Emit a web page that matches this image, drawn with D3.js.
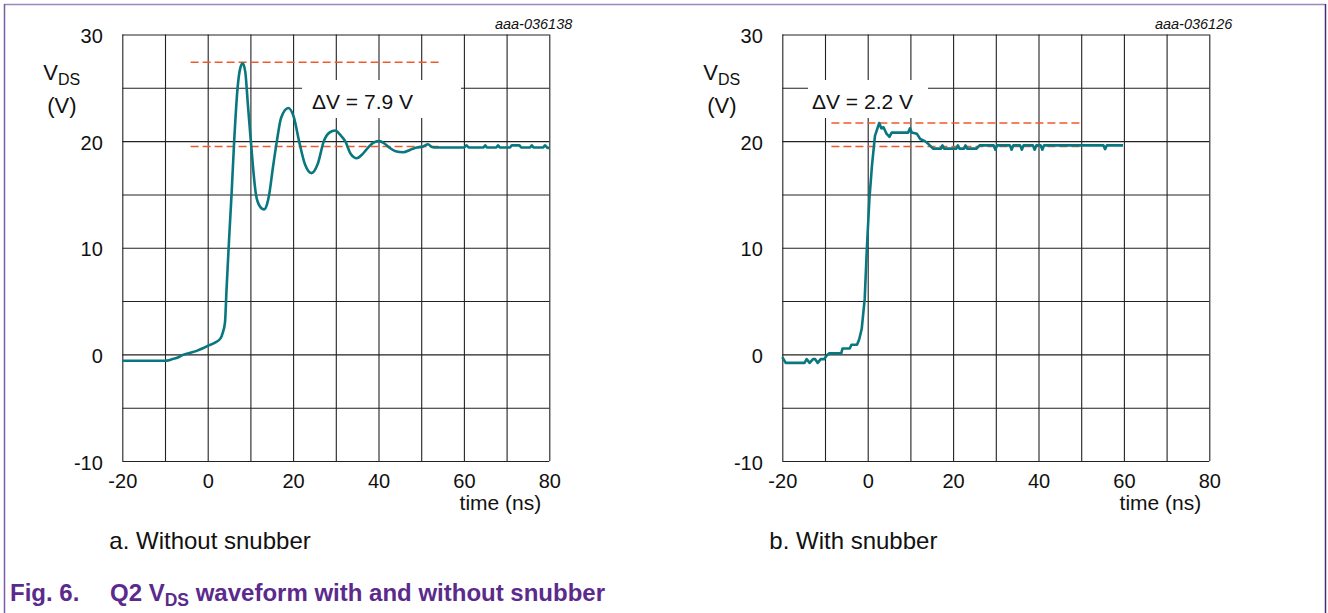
<!DOCTYPE html>
<html lang="en">
<head>
<meta charset="UTF-8">
<title>Q2 VDS waveform with and without snubber</title>
<script src="https://d3js.org/d3.v7.min.js"></script>
<style>
  body { margin: 0; background: #fff; }
  svg { font-family: "Liberation Sans", Arial, sans-serif; }
</style>
</head>
<body>
<svg width="1328" height="613"></svg>
<script>
// time axis (ns) and VDS (V) ticks
const xTicks = [-20, 0, 20, 40, 60, 80];
const yTicks = [-10, 0, 10, 20, 30];

// a. without snubber
const timeA = [-20, -10, -9, -8.4, -7, -5.8, -4, -2.6, -1, 0, 1.7, 3, 3.5, 4.05, 4.4, 5, 5.6, 6.2, 7, 7.6,
  8.2, 8.8, 9.4, 10.1, 11.3, 12.2, 13.2, 13.9, 14.4, 15.3, 16.2, 17.2, 18.9, 20.2, 21.4, 22.8, 24.3, 25.8,
  27.2, 28.5, 29.9, 31, 32.2, 33.5, 34.9, 36.3, 37.8, 39, 40.2, 41.3, 42.5, 44, 45.8, 47.5, 49, 50.5, 51.6,
  52.5, 53.6, 60, 60.6, 61.2, 64.6, 65, 65.4, 67.6, 68, 68.4, 70.8, 71.2, 73, 73.4, 75.5, 75.9, 76.3, 78.5,
  79, 79.5, 80];
const vdsA = [-0.6, -0.6, -0.55, -0.45, -0.3, -0.05, 0.15, 0.33, 0.6, 0.8, 1.1, 1.5, 2.0, 3.0, 6.0, 10.75,
  15.1, 20.0, 25.0, 26.8, 27.3, 26.5, 23.5, 20.0, 15.0, 13.9, 13.6, 14.1, 15.0, 17.6, 20.0, 22.2, 23.1, 22.2,
  20.0, 17.8, 17.0, 17.9, 20.0, 20.8, 21.0, 20.6, 20.0, 18.8, 18.4, 18.8, 19.5, 19.9, 20.0, 19.8, 19.4, 19.05,
  18.95, 19.2, 19.4, 19.5, 19.7, 19.45, 19.4, 19.4, 19.6, 19.4, 19.4, 19.6, 19.4, 19.4, 19.6, 19.4, 19.4,
  19.6, 19.6, 19.4, 19.4, 19.6, 19.4, 19.4, 19.6, 19.4, 19.35];
const levelsA = [27.4, 19.5];
const spanA = [-4, 54.5];

// b. with snubber
const timeB = [-20, -19.2, -14.8, -14.3, -13.6, -12.8, -12.3, -11.7, -11, -10.2, -9.6, -9, -6.2, -5.9, -4.2,
  -3.8, -2.5, -2, -1.4, -0.7, -0.2, 0.4, 1, 1.7, 2.7, 3.2, 3.7, 4.4, 5.1, 5.6, 9.5, 9.9, 10.3, 11.5, 12.3,
  13.4, 14.3, 15.3, 17.2, 17.5, 17.9, 20.8, 21.1, 21.5, 22.6, 22.9, 23.3, 25.5, 26.2, 29.5, 29.9, 30.3, 33.3,
  33.7, 34.1, 35.7, 36.1, 36.5, 38.7, 39.1, 39.5, 40.5, 40.9, 41.3, 55.2, 55.6, 56, 59.8];
const vdsB = [-0.25, -0.8, -0.8, -0.45, -0.8, -0.45, -0.45, -0.8, -0.45, -0.45, -0.1, 0.1, 0.1, 0.55, 0.55,
  0.9, 0.9, 1.4, 2.4, 5.2, 9.9, 14.6, 17.7, 20.5, 21.7, 21.2, 21.3, 20.7, 20.4, 20.8, 20.8, 21.2, 20.8, 20.7,
  20.2, 20.0, 19.7, 19.3, 19.3, 19.6, 19.3, 19.3, 19.6, 19.3, 19.3, 19.6, 19.3, 19.3, 19.6, 19.6, 19.2, 19.6,
  19.6, 19.2, 19.6, 19.6, 19.2, 19.6, 19.6, 19.2, 19.6, 19.6, 19.2, 19.6, 19.6, 19.25, 19.6, 19.6];
const levelsB = [21.7, 19.5];
const spanB = [-8.5, 50];

const svg = d3.select("svg");
const purple = "#5b2a8c";

// page frame
svg.append("line").attr("x1", 4).attr("x2", 1325).attr("y1", 4.5).attr("y2", 4.5)
  .attr("stroke", "#9c87c0").attr("stroke-width", 1.5);
svg.append("line").attr("x1", 4.5).attr("x2", 4.5).attr("y1", 4).attr("y2", 613)
  .attr("stroke", "#7a5ca8").attr("stroke-width", 1.5);
svg.append("line").attr("x1", 1325.5).attr("x2", 1325.5).attr("y1", 4).attr("y2", 613)
  .attr("stroke", "#4b2a7a").attr("stroke-width", 1.5);

function drawPanel(opt) {
  const g = svg.append("g");
  const x = d3.scaleLinear().domain([-20, 80]).range([opt.left, opt.left + 427]);
  const y = d3.scaleLinear().domain([-10, 30]).range([461, 34.5]);

  // grid
  g.append("g")
    .attr("transform", `translate(0,${y(-10)})`)
    .call(d3.axisBottom(x).tickValues(d3.range(-20, 81, 10)).tickSize(-(y(-10) - y(30))).tickFormat(""))
    .call(a => a.select(".domain").remove())
    .call(a => a.selectAll("line").attr("stroke", "#222").attr("stroke-width", 1.1));
  g.append("g")
    .attr("transform", `translate(${x(-20)},0)`)
    .call(d3.axisLeft(y).tickValues(d3.range(-10, 31, 5)).tickSize(-(x(80) - x(-20))).tickFormat(""))
    .call(a => a.select(".domain").remove())
    .call(a => a.selectAll("line").attr("stroke", "#222").attr("stroke-width", 1.1));

  // tick labels
  g.append("g")
    .attr("transform", `translate(0,${y(-10)})`)
    .call(d3.axisBottom(x).tickValues(xTicks).tickSize(0).tickPadding(12.5).tickFormat(d => String(d)))
    .call(a => a.select(".domain").remove())
    .call(a => a.selectAll("text").attr("font-size", 20).attr("fill", "#111")
      .attr("font-family", "Liberation Sans, Arial, sans-serif"));
  g.append("g")
    .attr("transform", `translate(${x(-20)},0)`)
    .call(d3.axisLeft(y).tickValues(yTicks).tickSize(0).tickPadding(19.5).tickFormat(d => String(d)))
    .call(a => a.select(".domain").remove())
    .call(a => a.selectAll("text").attr("font-size", 20).attr("dy", "0.4em").attr("fill", "#111")
      .attr("font-family", "Liberation Sans, Arial, sans-serif"));

  // ΔV label box
  g.append("rect")
    .attr("x", opt.boxX).attr("y", 80).attr("width", opt.boxW).attr("height", 38)
    .attr("fill", "#fff");
  g.append("text")
    .attr("x", opt.textX).attr("y", 109)
    .attr("font-size", 21).attr("fill", "#111")
    .text(opt.delta);

  // dashed reference levels
  g.selectAll("line.ref").data(opt.levels).enter().append("line")
    .attr("class", "ref")
    .attr("x1", x(opt.span[0])).attr("x2", x(opt.span[1]))
    .attr("y1", d => y(d)).attr("y2", d => y(d))
    .attr("stroke", "#ee5a2c").attr("stroke-width", 1.6).attr("stroke-dasharray", "8,4");

  // waveform
  const pts = opt.t.map((t, i) => [t, opt.v[i]]);
  g.append("path")
    .datum(pts)
    .attr("fill", "none").attr("stroke", "#08777f").attr("stroke-width", 2.6)
    .attr("stroke-linejoin", "round")
    .attr("d", d3.line().x(d => x(d[0])).y(d => y(d[1])).curve(opt.curve));

  // axis titles
  const vt = g.append("text").attr("x", opt.left - 79).attr("y", 80).attr("font-size", 22).attr("fill", "#111");
  vt.append("tspan").text("V");
  vt.append("tspan").attr("font-size", 16).attr("dy", 5).text("DS");
  g.append("text").attr("x", opt.left - 75).attr("y", 113).attr("font-size", 22).attr("fill", "#111").text("(V)");
  g.append("text").attr("x", x(80) - 8).attr("y", 510).attr("text-anchor", "end")
    .attr("font-size", 21).attr("fill", "#111").text("time (ns)");

  // figure id
  g.append("text").attr("x", x(80) + 23).attr("y", 29).attr("text-anchor", "end")
    .attr("font-size", 14.5).attr("font-style", "italic").attr("fill", "#111").text(opt.id);

  // sub caption
  g.append("text").attr("x", opt.left - 13).attr("y", 549).attr("font-size", 24).attr("fill", "#111")
    .text(opt.caption);
}

drawPanel({
  left: 122.3, t: timeA, v: vdsA, levels: levelsA, span: spanA, curve: d3.curveMonotoneX,
  boxX: 302, boxW: 159, textX: 312, delta: "ΔV = 7.9 V", id: "aaa-036138", caption: "a. Without snubber"
});
drawPanel({
  left: 782.3, t: timeB, v: vdsB, levels: levelsB, span: spanB, curve: d3.curveLinear,
  boxX: 808, boxW: 120, textX: 812, delta: "ΔV = 2.2 V", id: "aaa-036126", caption: "b. With snubber"
});

// figure caption
const cap = svg.append("text").attr("y", 601).attr("font-size", 24).attr("font-weight", "bold").attr("fill", purple);
cap.append("tspan").attr("x", 10).text("Fig. 6.");
cap.append("tspan").attr("x", 110).text("Q2 V");
cap.append("tspan").attr("font-size", 17.5).attr("dy", 5).text("DS");
cap.append("tspan").attr("dy", -5).text(" waveform with and without snubber");
</script>
</body>
</html>
